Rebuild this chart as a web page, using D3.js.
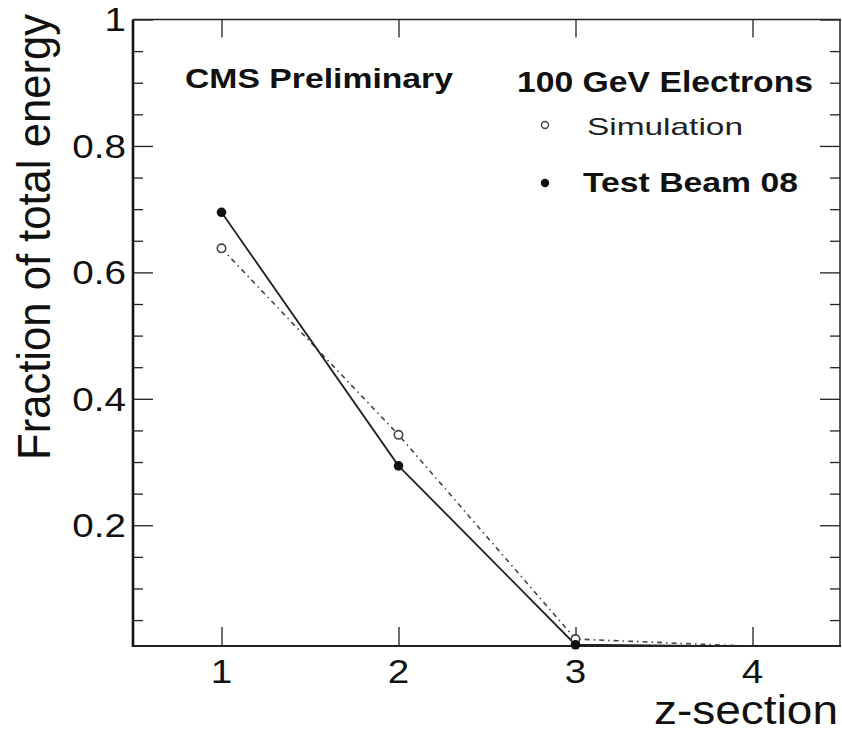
<!DOCTYPE html>
<html>
<head>
<meta charset="utf-8">
<script src="https://cdn.jsdelivr.net/npm/d3@7"></script>
<style>
  html, body { margin: 0; padding: 0; background: #fff; }
  svg { display: block; font-family: "Liberation Sans", Arial, Helvetica, sans-serif; }
</style>
</head>
<body>
<script>
// Longitudinal shower profile: fraction of total energy per z-section
const sections = [1, 2, 3, 4];
const simulation = [0.638, 0.343, 0.020, 0.0085];
const testBeam = [0.695, 0.294, 0.011, 0.0085];
const yMajorTicks = [0.2, 0.4, 0.6, 0.8, 1];
const yTickLabels = ["0.2", "0.4", "0.6", "0.8", "1"];
const xTickLabels = ["1", "2", "3", "4"];

(function draw() {
  const W = 842, H = 734;
  const padL = 133, padR = 841, padT = 19.5, padB = 646;
  const stretch = 1.17; // glyphs are drawn slightly wide

  const svg = d3.select("body").append("svg").attr("width", W).attr("height", H);

  const x = d3.scaleLinear().domain([0.5, 4.5]).range([padL, padR]);
  const y = d3.scaleLinear().domain([0.009, 1]).range([padB, padT]);

  function widen(sel, k) {
    sel.each(function () {
      const len = this.getComputedTextLength();
      d3.select(this).attr("textLength", len * k).attr("lengthAdjust", "spacingAndGlyphs");
    });
  }

  const axisColor = "#222";
  const yMinor = d3.range(0.05, 1.0001, 0.05).filter(v => v >= y.domain()[0]);
  const isMajor = d => yMajorTicks.some(m => Math.abs(m - d) < 1e-6);

  // left axis: major ticks labelled, minor ticks every 0.05
  const gL = svg.append("g").attr("transform", `translate(${padL},0)`)
    .call(d3.axisRight(y).tickValues(yMinor).tickSize(10).tickFormat(""));
  gL.select(".domain").remove();
  gL.selectAll(".tick line").attr("x2", d => isMajor(d) ? 20 : 10)
    .attr("stroke", axisColor).attr("stroke-width", 1.3);

  const yLab = svg.append("g").selectAll("text").data(yMajorTicks).join("text")
    .attr("x", padL - 7).attr("y", d => y(d)).attr("dy", "0.36em")
    .attr("text-anchor", "end").attr("font-size", 33).attr("fill", "#111")
    .text((d, i) => yTickLabels[i]);
  widen(yLab, stretch);

  // right axis mirrors the ticks, unlabelled
  const gR = svg.append("g").attr("transform", `translate(${padR - 1},0)`)
    .call(d3.axisLeft(y).tickValues(yMinor).tickSize(10).tickFormat(""));
  gR.select(".domain").remove();
  gR.selectAll(".tick line").attr("x2", d => isMajor(d) ? -20 : -10)
    .attr("stroke", axisColor).attr("stroke-width", 1.3);

  // bottom axis
  const gB = svg.append("g").attr("transform", `translate(0,${padB})`)
    .call(d3.axisTop(x).tickValues(sections).tickSize(19).tickFormat(""));
  gB.select(".domain").remove();
  gB.selectAll(".tick line").attr("stroke", axisColor).attr("stroke-width", 1.3);

  const xLab = svg.append("g").selectAll("text").data(sections).join("text")
    .attr("x", d => x(d)).attr("y", 683)
    .attr("text-anchor", "middle").attr("font-size", 33).attr("fill", "#111")
    .text((d, i) => xTickLabels[i]);
  widen(xLab, stretch);

  // top axis
  const gT = svg.append("g").attr("transform", `translate(0,${padT})`)
    .call(d3.axisBottom(x).tickValues(sections).tickSize(18).tickFormat(""));
  gT.select(".domain").remove();
  gT.selectAll(".tick line").attr("stroke", axisColor).attr("stroke-width", 1.3);

  // frame
  svg.append("line").attr("x1", padL).attr("x2", padR).attr("y1", padT).attr("y2", padT)
    .attr("stroke", axisColor).attr("stroke-width", 1.5);
  svg.append("line").attr("x1", padR - 1).attr("x2", padR - 1).attr("y1", padT).attr("y2", padB)
    .attr("stroke", axisColor).attr("stroke-width", 1.5);
  svg.append("line").attr("x1", padL).attr("x2", padL).attr("y1", padT).attr("y2", padB + 1)
    .attr("stroke", "#111").attr("stroke-width", 2.6);
  svg.append("line").attr("x1", padL).attr("x2", padR).attr("y1", padB).attr("y2", padB)
    .attr("stroke", "#222").attr("stroke-width", 2);

  // data lines, clipped to the frame
  svg.append("clipPath").attr("id", "plotArea").append("rect")
    .attr("x", padL).attr("y", padT).attr("width", padR - padL).attr("height", padB - padT);

  const line = d3.line().x((d, i) => x(sections[i])).y(d => y(d));

  svg.append("path").datum(simulation).attr("clip-path", "url(#plotArea)")
    .attr("d", line).attr("fill", "none").attr("stroke", "#444")
    .attr("stroke-width", 1.6).attr("stroke-dasharray", "5,4,1.5,4");

  svg.append("path").datum(testBeam).attr("clip-path", "url(#plotArea)")
    .attr("d", line).attr("fill", "none").attr("stroke", "#222").attr("stroke-width", 1.8);

  // markers are only drawn for points inside the frame
  const inRange = v => v >= y.domain()[0];

  svg.append("g").selectAll("circle")
    .data(simulation.map((v, i) => [sections[i], v]).filter(d => inRange(d[1])))
    .join("circle").attr("cx", d => x(d[0])).attr("cy", d => y(d[1])).attr("r", 4.2)
    .attr("fill", "#fff").attr("stroke", "#444").attr("stroke-width", 1.6);

  svg.append("g").selectAll("circle")
    .data(testBeam.map((v, i) => [sections[i], v]).filter(d => inRange(d[1])))
    .join("circle").attr("cx", d => x(d[0])).attr("cy", d => y(d[1])).attr("r", 4.8)
    .attr("fill", "#111");

  // annotations and legend
  svg.append("text").attr("x", 185).attr("y", 88).attr("font-size", 28)
    .attr("font-weight", "bold").attr("fill", "#111").text("CMS Preliminary")
    .attr("textLength", 268).attr("lengthAdjust", "spacingAndGlyphs");

  svg.append("text").attr("x", 517).attr("y", 92).attr("font-size", 29)
    .attr("font-weight", "bold").attr("fill", "#111").text("100 GeV Electrons")
    .attr("textLength", 296).attr("lengthAdjust", "spacingAndGlyphs");

  svg.append("circle").attr("cx", 545).attr("cy", 125).attr("r", 3.5)
    .attr("fill", "#fff").attr("stroke", "#444").attr("stroke-width", 1.4);
  svg.append("text").attr("x", 587).attr("y", 135).attr("font-size", 24)
    .attr("fill", "#222").text("Simulation")
    .attr("textLength", 156).attr("lengthAdjust", "spacingAndGlyphs");

  svg.append("circle").attr("cx", 545).attr("cy", 183).attr("r", 4.2).attr("fill", "#111");
  svg.append("text").attr("x", 583).attr("y", 192).attr("font-size", 27)
    .attr("font-weight", "bold").attr("fill", "#111").text("Test Beam 08")
    .attr("textLength", 215).attr("lengthAdjust", "spacingAndGlyphs");

  // axis titles
  svg.append("text").attr("x", 838).attr("y", 724).attr("text-anchor", "end")
    .attr("font-size", 41).attr("fill", "#111").text("z-section")
    .attr("textLength", 184).attr("lengthAdjust", "spacingAndGlyphs");

  svg.append("text")
    .attr("transform", "translate(50,460) rotate(-90) scale(1,1.09)")
    .attr("font-size", 43).attr("fill", "#111").text("Fraction of total energy")
    .attr("textLength", 446).attr("lengthAdjust", "spacingAndGlyphs");
})();
</script>
</body>
</html>
